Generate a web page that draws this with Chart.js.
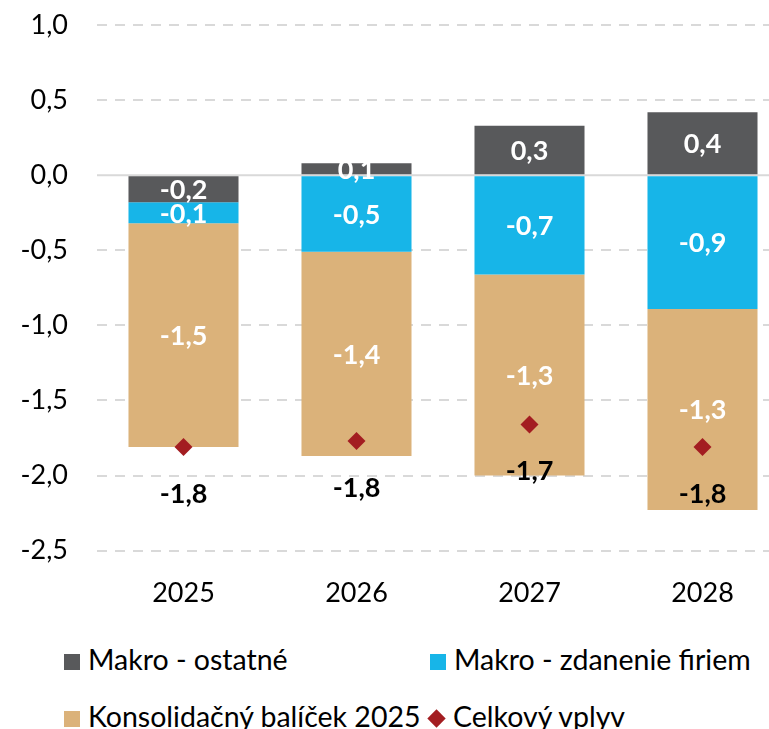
<!DOCTYPE html>
<html>
<head>
<meta charset="utf-8">
<script src="https://cdn.jsdelivr.net/npm/chart.js@4/dist/chart.umd.min.js"></script>
<style>
  body { margin: 0; background: #fff; }
  #page { position: relative; width: 769px; height: 729px; overflow: hidden; font-family: Lato, sans-serif; }
  #wrap { position: absolute; left: 0; top: -20px; width: 800px; height: 647px; }
  .leg { position: absolute; font-size: 28.5px; color: #000; white-space: nowrap; line-height: 30px; }
  .sw { display: inline-block; width: 16px; height: 16px; margin-right: 8px; vertical-align: 0px; }
  .dia { width: 13px; height: 13px; transform: rotate(45deg); margin-left: 2px; margin-right: 10px; vertical-align: 2px; }
</style>
</head>
<body>
<div id="page">
  <div id="wrap"><canvas id="myChart"></canvas></div>
</div>
<script>
var years = ['2025', '2026', '2027', '2028'];
var makroOstatne = [-0.18, 0.08, 0.33, 0.42];
var makroZdanenie = [-0.14, -0.51, -0.66, -0.89];
var konsolidacny = [-1.49, -1.36, -1.34, -1.34];
var celkovyVplyv = [-1.81, -1.77, -1.66, -1.81];
var yTicks = [1.0, 0.5, 0.0, -0.5, -1.0, -1.5, -2.0, -2.5];

var seriesNames = ['Makro - ostatné', 'Makro - zdanenie firiem', 'Konsolidačný balíček 2025', 'Celkový vplyv'];
var colors = ['#58595b', '#17b5e8', '#dbb27a', '#a31d21'];

function fmt(v) {
  return v.toFixed(1).replace('.', ',');
}

// labels inside bars + totals under the diamonds
var labelPlugin = {
  id: 'labels',
  beforeDatasetsDraw: function (chart) {
    var ctx = chart.ctx;
    var y0 = chart.scales.y.getPixelForValue(0);
    ctx.save();
    ctx.strokeStyle = '#d9d9d9';
    ctx.lineWidth = 2;
    ctx.beginPath();
    ctx.moveTo(chart.chartArea.left, y0);
    ctx.lineTo(chart.chartArea.right, y0);
    ctx.stroke();
    ctx.restore();
  },
  afterDatasetsDraw: function (chart) {
    var ctx = chart.ctx;
    ctx.save();
    ctx.font = 'bold 27px Lato, sans-serif';
    ctx.textAlign = 'center';
    ctx.textBaseline = 'middle';
    chart.data.datasets.forEach(function (ds, i) {
      var meta = chart.getDatasetMeta(i);
      meta.data.forEach(function (el, j) {
        var v = ds.data[j];
        if (ds.type === 'line') {
          ctx.fillStyle = '#000';
          ctx.fillText(fmt(v), el.x, el.y + 47);
        } else {
          ctx.fillStyle = '#fff';
          ctx.fillText(fmt(v), el.x, (el.y + el.base) / 2 + 1);
        }
      });
    });
    ctx.restore();
  }
};

var ctx = document.getElementById('myChart');
new Chart(ctx, {
  type: 'bar',
  data: {
    labels: years,
    datasets: [
      { label: seriesNames[0], data: makroOstatne, backgroundColor: colors[0], stack: 'a', order: 2 },
      { label: seriesNames[1], data: makroZdanenie, backgroundColor: colors[1], stack: 'a', order: 2 },
      { label: seriesNames[2], data: konsolidacny, backgroundColor: colors[2], stack: 'a', order: 2 },
      {
        type: 'line', label: seriesNames[3], data: celkovyVplyv, stack: 'total', order: 1,
        showLine: false, pointStyle: 'rectRot', pointRadius: 9, pointHoverRadius: 9,
        backgroundColor: colors[3], borderColor: colors[3], borderWidth: 0
      }
    ]
  },
  options: {
    responsive: true,
    maintainAspectRatio: false,
    animation: false,
    events: [],
    layout: { padding: { top: 7, right: 11, left: 0, bottom: 0 } },
    datasets: { bar: { categoryPercentage: 1, barPercentage: 0.636, borderWidth: 0 } },
    plugins: { legend: { display: false }, tooltip: { enabled: false } },
    scales: {
      x: {
        stacked: true,
        grid: { display: false },
        border: { display: false },
        ticks: { color: '#000', font: { family: 'Lato', size: 27 }, padding: 18 }
      },
      y: {
        stacked: true,
        min: -2.5,
        max: 1.0,
        afterBuildTicks: function (scale) {
          scale.ticks = yTicks.map(function (v) { return { value: v }; });
        },
        afterFit: function (scale) { scale.width = 97; },
        grid: {
          drawTicks: false,
          lineWidth: 2,
          color: function (c) { return c.tick && c.tick.value === 0 ? 'rgba(0,0,0,0)' : '#d9d9d9'; }
        },
        border: { display: false, dash: [10, 8] },
        ticks: {
          color: '#000',
          font: { family: 'Lato', size: 27 },
          padding: 29,
          callback: function (v) { return fmt(v); }
        }
      }
    }
  },
  plugins: [labelPlugin]
});

// legend in two columns
var legendPos = [[64, 644], [430, 644], [64, 701], [428, 701]];
var page = document.getElementById('page');
seriesNames.forEach(function (name, i) {
  var d = document.createElement('div');
  d.className = 'leg';
  d.style.left = legendPos[i][0] + 'px';
  d.style.top = legendPos[i][1] + 'px';
  var sw = document.createElement('span');
  sw.className = i === 3 ? 'sw dia' : 'sw';
  sw.style.background = colors[i];
  d.appendChild(sw);
  d.appendChild(document.createTextNode(name));
  page.appendChild(d);
});
</script>
</body>
</html>
